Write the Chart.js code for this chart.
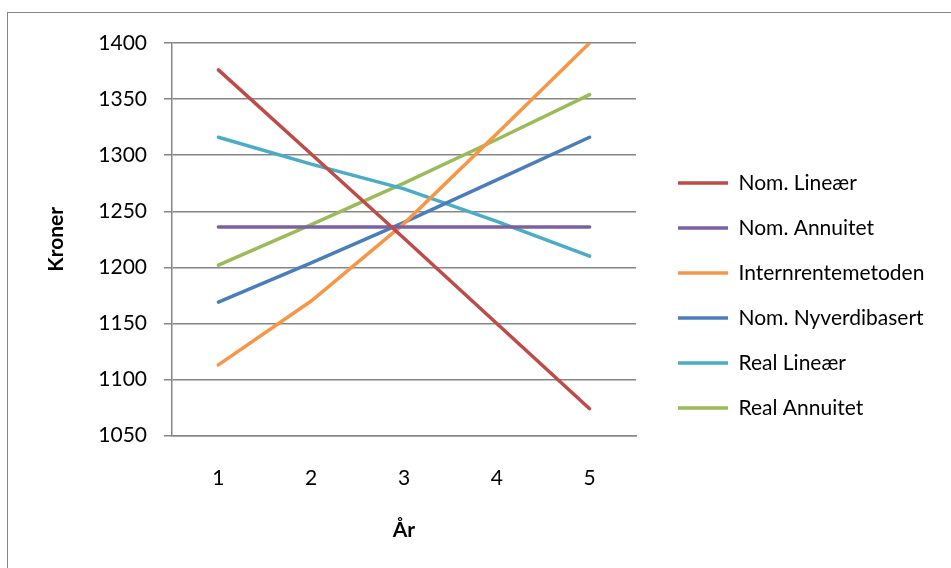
<!DOCTYPE html>
<html lang="no">
<head>
  <meta charset="UTF-8">
  <title>Kroner per år</title>
  <script src="https://cdn.jsdelivr.net/npm/chart.js"></script>
  <style>
    html, body { margin: 0; padding: 0; background: #ffffff; }
  </style>
</head>
<body>
  <canvas id="chart" width="951" height="568"></canvas>

  <script>
    // data
    const years = ['1', '2', '3', '4', '5'];
    const seriesNames = ['Nom. Lineær', 'Nom. Annuitet', 'Internrentemetoden', 'Nom. Nyverdibasert', 'Real Lineær', 'Real Annuitet'];
    const nomLinear    = [1376, 1301, 1226, 1150, 1074];
    const nomAnnuitet  = [1236, 1236, 1236, 1236, 1236];
    const internrente  = [1113, 1170, 1239, 1319, 1400];
    const nomNyverdi   = [1169, 1204, 1240, 1278, 1316];
    const realLinear   = [1316, 1292, 1270, 1241, 1210];
    const realAnnuitet = [1202, 1238, 1275, 1314, 1354];
    const colors = ['#be4b48', '#7d60a0', '#f79646', '#4a7ebb', '#4bacc6', '#9bbb59'];

    const FONT = 'Lato';
    const SIZE = 21;
    const GRID = '#868686';
    const LEG_PAD = 24;
    const BOX_W = 50;

    // work out how much room to leave right of the legend
    const mctx = document.createElement('canvas').getContext('2d');
    mctx.font = SIZE + 'px ' + FONT;
    const longest = Math.max(...seriesNames.map(n => mctx.measureText(n).width));
    const legendW = LEG_PAD + BOX_W + SIZE / 2 + longest + 10;
    const padRight = Math.max(0, 951 - 654 - legendW);

    const frame = {
      id: 'frame',
      beforeDraw(chart) {
        const ctx = chart.ctx;
        ctx.save();
        ctx.fillStyle = '#ffffff';
        ctx.fillRect(0, 0, chart.width, chart.height);
        ctx.strokeStyle = GRID;
        ctx.lineWidth = 1;
        ctx.strokeRect(7.5, 12.5, 2000, 2000);
        ctx.restore();
      }
    };

    const allSeries = [nomLinear, nomAnnuitet, internrente, nomNyverdi, realLinear, realAnnuitet];

    new Chart(document.getElementById('chart'), {
      type: 'line',
      data: {
        labels: years,
        datasets: allSeries.map((vals, i) => ({
          label: seriesNames[i],
          data: vals,
          borderColor: colors[i],
          backgroundColor: colors[i],
          borderWidth: 3.5,
          borderCapStyle: 'round',
          pointRadius: 0,
          tension: 0,
          fill: false
        }))
      },
      options: {
        responsive: false,
        animation: false,
        devicePixelRatio: 1,
        layout: { padding: { left: 8, top: 43, right: padRight, bottom: 20 } },
        plugins: {
          tooltip: { enabled: false },
          legend: {
            position: 'right',
            align: 'center',
            maxWidth: 297,
            labels: {
              usePointStyle: true,
              pointStyle: 'line',
              pointStyleWidth: BOX_W,
              padding: LEG_PAD,
              color: '#000000',
              font: { family: FONT, size: SIZE }
            }
          }
        },
        scales: {
          x: {
            offset: true,
            grid: { display: false, drawTicks: false },
            border: { display: true, color: GRID, width: 1.5 },
            ticks: { color: '#000000', padding: 30, maxRotation: 0, font: { family: FONT, size: SIZE } },
            title: {
              display: true, text: 'År', color: '#000000',
              padding: { top: -3, bottom: 5 },
              font: { family: FONT, size: SIZE, weight: 'bold' }
            }
          },
          y: {
            min: 1050,
            max: 1400,
            afterFit: s => { s.width = 164; },
            grid: { color: GRID, lineWidth: 1.5, tickLength: 8 },
            border: { display: true, color: GRID, width: 1.5 },
            ticks: { stepSize: 50, color: '#000000', padding: 17, callback: v => String(v), font: { family: FONT, size: SIZE } },
            title: {
              display: true, text: 'Kroner', color: '#000000',
              padding: { top: 36, bottom: 0 },
              font: { family: FONT, size: SIZE, weight: 'bold' }
            }
          },
          gap: {
            type: 'linear',
            position: 'right',
            afterFit: s => { s.width = 18; },
            grid: { display: false, drawTicks: false },
            border: { display: false },
            ticks: { display: false }
          }
        }
      },
      plugins: [frame]
    });
  </script>
</body>
</html>
